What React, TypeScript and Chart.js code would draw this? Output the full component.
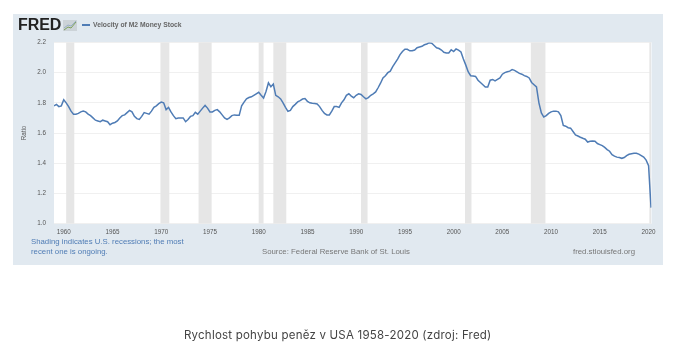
import React, { useEffect, useRef } from "react";
import { Chart, registerables } from "chart.js";

Chart.register(...registerables);

const START_YEAR = 1959;
const SERIES_NAME = "Velocity of M2 Money Stock";
const xTickYears = [1960, 1965, 1970, 1975, 1980, 1985, 1990, 1995, 2000, 2005, 2010, 2015, 2020];
const yTickValues = [1.0, 1.2, 1.4, 1.6, 1.8, 2.0, 2.2];
const recessionStarts = [1960.25, 1969.92, 1973.83, 1980.0, 1981.5, 1990.5, 2001.17, 2007.92, 2020.08];
const recessionEnds = [1961.08, 1970.83, 1975.17, 1980.5, 1982.83, 1991.17, 2001.83, 2009.42, 2020.25];

// quarterly values, 1959 Q1 to 2020 Q2
const velocity = [
  1.78, 1.79, 1.775, 1.78,
  1.82, 1.8, 1.775, 1.745,
  1.725, 1.725, 1.73, 1.74,
  1.745, 1.74, 1.725, 1.715,
  1.7, 1.685, 1.68, 1.675,
  1.685, 1.68, 1.675, 1.655,
  1.665, 1.67, 1.68, 1.7,
  1.715, 1.72, 1.735, 1.75,
  1.74, 1.71, 1.695, 1.69,
  1.71, 1.735, 1.73, 1.725,
  1.745, 1.77, 1.78, 1.795,
  1.805, 1.8, 1.755, 1.77,
  1.74, 1.715, 1.695, 1.7,
  1.7, 1.7, 1.675, 1.69,
  1.71, 1.715, 1.737, 1.725,
  1.745, 1.765, 1.783, 1.765,
  1.74, 1.74, 1.75, 1.755,
  1.74, 1.72, 1.7, 1.69,
  1.7, 1.715, 1.72, 1.717,
  1.717, 1.78, 1.805, 1.826,
  1.835, 1.84, 1.85, 1.86,
  1.87, 1.85, 1.832, 1.875,
  1.932, 1.907, 1.925, 1.85,
  1.84, 1.826, 1.8, 1.77,
  1.744, 1.75, 1.775, 1.79,
  1.806, 1.815, 1.825, 1.828,
  1.81, 1.8, 1.797, 1.795,
  1.793, 1.775, 1.75, 1.73,
  1.72, 1.72, 1.745, 1.775,
  1.775, 1.77, 1.8, 1.82,
  1.85, 1.86, 1.845, 1.834,
  1.85, 1.86, 1.855, 1.84,
  1.826, 1.835, 1.85, 1.86,
  1.872, 1.9, 1.93, 1.965,
  1.98, 2.0, 2.01, 2.04,
  2.065, 2.09, 2.12, 2.14,
  2.155, 2.155, 2.145, 2.145,
  2.15, 2.165, 2.17, 2.175,
  2.185, 2.19, 2.199, 2.195,
  2.18, 2.165, 2.16, 2.15,
  2.135, 2.13, 2.13, 2.152,
  2.14, 2.157, 2.15, 2.137,
  2.09, 2.05, 2.005, 1.98,
  1.978, 1.975, 1.95, 1.935,
  1.92, 1.905, 1.905, 1.95,
  1.955, 1.945, 1.955, 1.965,
  1.99, 2.0, 2.006, 2.01,
  2.02, 2.015, 2.005, 1.995,
  1.99, 1.98, 1.975, 1.965,
  1.935, 1.92, 1.905, 1.8,
  1.733, 1.706, 1.715, 1.73,
  1.74, 1.745, 1.745, 1.74,
  1.715, 1.65, 1.645, 1.635,
  1.632, 1.61, 1.587, 1.58,
  1.572, 1.565, 1.559, 1.54,
  1.545, 1.547, 1.545, 1.53,
  1.523, 1.516, 1.505, 1.49,
  1.479, 1.457, 1.447, 1.44,
  1.437, 1.432, 1.437, 1.45,
  1.459, 1.463, 1.466, 1.466,
  1.46, 1.45, 1.44, 1.42,
  1.384, 1.105,
];

const ARIAL = '"Liberation Sans", Arial, sans-serif';
const PANEL = "#e1e9f0";

const shading = {
  id: "shading",
  beforeDraw(chart: any) {
    const { ctx, chartArea: a } = chart;
    ctx.save();
    ctx.fillStyle = "#ffffff";
    ctx.fillRect(a.left, a.top, a.right - a.left, a.bottom - a.top);
    ctx.restore();
  },
  beforeDatasetsDraw(chart: any) {
    const { ctx, chartArea: a, scales } = chart;
    ctx.save();
    ctx.fillStyle = "#e6e6e6";
    recessionStarts.forEach((s, i) => {
      const x0 = scales.x.getPixelForValue(s);
      const x1 = scales.x.getPixelForValue(recessionEnds[i]);
      ctx.fillRect(x0, a.top, x1 - x0, a.bottom - a.top);
    });
    ctx.restore();
  },
};

const abs = (left: number, top: number, extra: any = {}) => ({
  position: "absolute",
  left,
  top,
  whiteSpace: "nowrap",
  fontFamily: ARIAL,
  ...extra,
});

export default function App() {
  const ref = useRef<HTMLCanvasElement>(null);

  useEffect(() => {
    document.body.style.margin = "0";
    const chart = new Chart(ref.current as any, {
      type: "line",
      data: {
        datasets: [
          {
            label: SERIES_NAME,
            data: velocity.map((v, i) => ({ x: START_YEAR + i / 4, y: v })),
            borderColor: "#4f7cb5",
            borderWidth: 1.5,
            pointRadius: 0,
            tension: 0,
            fill: false,
          },
        ],
      },
      options: {
        animation: false,
        responsive: false,
        layout: { padding: { left: 0, top: 42.5, right: 30.5, bottom: 0 } },
        plugins: { legend: { display: false }, tooltip: { enabled: false }, title: { display: false } },
        scales: {
          x: {
            type: "linear",
            min: 1959,
            max: 2020.3,
            afterBuildTicks: (s: any) => {
              s.ticks = xTickYears.map((v) => ({ value: v }));
            },
            afterFit: (s: any) => {
              s.height = 132.5;
            },
            grid: { display: false, drawTicks: false },
            border: { display: false },
            ticks: {
              autoSkip: false,
              maxRotation: 0,
              padding: 5,
              color: "#555555",
              font: { family: ARIAL, size: 6.3 },
              callback: (v: any) => String(v),
            },
          },
          y: {
            type: "linear",
            min: 1.0,
            max: 2.2,
            afterBuildTicks: (s: any) => {
              s.ticks = yTickValues.map((v) => ({ value: v }));
            },
            afterFit: (s: any) => {
              s.width = 54;
            },
            grid: { color: "#f0f0f0", lineWidth: 1, drawTicks: false },
            border: { display: false },
            title: {
              display: true,
              text: "Ratio",
              color: "#555555",
              font: { family: ARIAL, size: 6.3 },
              padding: { top: 20, bottom: 0 },
            },
            ticks: {
              padding: 8,
              color: "#555555",
              font: { family: ARIAL, size: 6.3 },
              callback: (v: any) => Number(v).toFixed(1),
            },
          },
        },
      },
      plugins: [shading],
    } as any);
    return () => chart.destroy();
  }, []);

  return (
    <div style={{ position: "absolute", left: 0, top: 0, width: 682, height: 356, background: "#fff", overflow: "hidden", filter: "blur(0.35px)" }}>
      <div style={{ position: "absolute", left: 13, top: 14, width: 650, height: 251, background: PANEL }} />
      <canvas ref={ref} width={682} height={356} style={{ position: "absolute", left: 0, top: 0, width: 682, height: 356 }} />
      <div style={abs(18, 16, { fontSize: 16, lineHeight: "18px", fontWeight: 700, color: "#222", letterSpacing: "-0.1px" }) as any}>FRED</div>
      <svg style={{ position: "absolute", left: 63, top: 20 }} width={14} height={11}>
        <rect x={0} y={0} width={14} height={11} fill="#ccd3d8" />
        <polyline points="1,10 5,7 8,8 13,2" fill="none" stroke="#7da05c" strokeWidth={1} />
        <polyline points="1,8 5,5 8,6 13,1" fill="none" stroke="#8aa5c0" strokeWidth={0.8} />
      </svg>
      <div style={{ position: "absolute", left: 82, top: 24, width: 8, height: 1.5, background: "#4f7cb5" }} />
      <div style={abs(93, 20, { fontSize: 6.75, lineHeight: "10px", fontWeight: 700, color: "#666" }) as any}>{SERIES_NAME}</div>
      <div style={abs(31, 237, { fontSize: 7.8, lineHeight: "9.6px", color: "#4f7cb5" }) as any}>
        Shading indicates U.S. recessions; the most
        <br />
        recent one is ongoing.
      </div>
      <div style={abs(262, 247, { fontSize: 7.8, lineHeight: "10px", color: "#777" }) as any}>Source: Federal Reserve Bank of St. Louis</div>
      <div style={abs(573, 247, { fontSize: 7.8, lineHeight: "10px", color: "#777" }) as any}>fred.stlouisfed.org</div>
      <div style={abs(184, 327, { fontFamily: '"Inter", sans-serif', fontSize: 11.5, lineHeight: "16px", color: "#444", letterSpacing: "0.22px" }) as any}>
        Rychlost pohybu peněz v USA 1958-2020 (zdroj: Fred)
      </div>
    </div>
  );
}
